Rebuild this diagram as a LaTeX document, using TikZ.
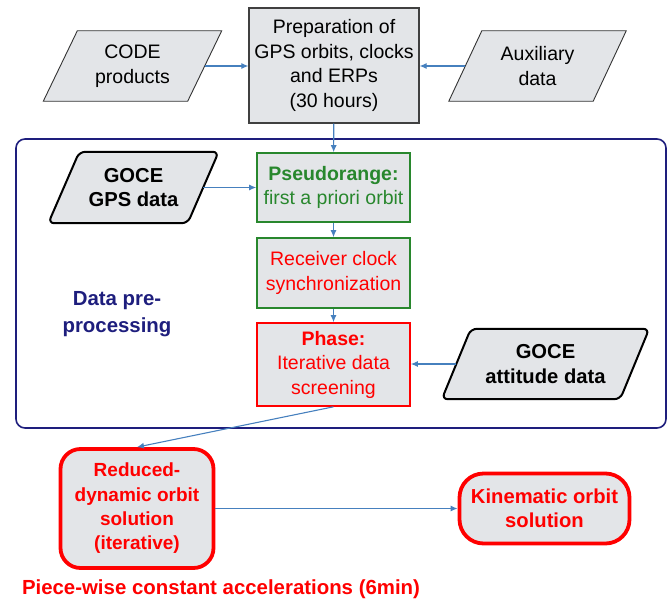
\documentclass[tikz,border=0pt]{standalone}
\usepackage{fontspec}
\setmainfont{Liberation Sans}
\usetikzlibrary{arrows.meta,backgrounds}

\definecolor{boxgray}{RGB}{227,229,232}
\definecolor{flowblue}{RGB}{70,128,190}
\definecolor{navyframe}{RGB}{30,30,125}
\definecolor{stepgreen}{RGB}{40,135,45}
\definecolor{stepred}{RGB}{255,0,0}

\tikzset{
  txt/.style={font=\fontsize{19.5}{24.5}\selectfont, align=center, inner sep=0pt},
  boldtxt/.style={txt, font=\fontsize{20.2}{24.5}\selectfont\bfseries},
  datatext/.style={txt, rectangle, minimum height=70pt},
  dataframe/.style={draw=black!80, line width=0.9pt, fill=boxgray},
  goceframe/.style={draw=black, line width=2pt, fill=boxgray, rounded corners=6pt},
  procbox/.style={txt, rectangle, fill=boxgray, line width=1.6pt},
  resultbox/.style={boldtxt, rectangle, draw=stepred, line width=3.8pt,
    fill=boxgray, text=stepred},
  flow/.style={-{Latex[length=7pt,width=6pt]}, flowblue, line width=1.1pt}
}

\begin{document}
\begin{tikzpicture}[x=1pt, y=-1pt]
  \useasboundingbox (0,0) rectangle (668,602);

  % Pre-processing frame
  \draw[navyframe, line width=1.6pt, rounded corners=9pt] (16,139) rectangle (666,428);
  \node[boldtxt, font=\fontsize{20.4}{27}\selectfont\bfseries, text=navyframe] (preproc) at (117,314) {Data pre-\\processing};

  % Inputs (text only, slanted frames drawn behind)
  \node[datatext, minimum width=144pt] (code) at (132.5,66) {CODE\\products};
  \node[datatext, minimum width=144pt] (aux) at (537.5,66) {Auxiliary\\data};
  \node[datatext, boldtxt, minimum width=139pt, minimum height=71pt] (gpsdata) at (133.5,187.5) {GOCE\\GPS data};
  \node[datatext, boldtxt, minimum width=178pt] (attitude) at (545.5,364) {GOCE\\attitude data};

  \begin{scope}[on background layer]
    \foreach \n/\s in {code/17, aux/16.5}
      \draw[dataframe] ([xshift=\s pt]\n.north west) -- ([xshift=\s pt]\n.north east)
        -- ([xshift=-\s pt]\n.south east) -- ([xshift=-\s pt]\n.south west) -- cycle;
    \foreach \n/\s in {gpsdata/15.5, attitude/14.5}
      \draw[goceframe] ([xshift=\s pt]\n.north west) -- ([xshift=\s pt]\n.north east)
        -- ([xshift=-\s pt]\n.south east) -- ([xshift=-\s pt]\n.south west) -- cycle;
  \end{scope}

  % Processing steps
  \node[procbox, draw=black!75, line width=1.2pt, minimum width=170pt, minimum height=115pt] (prep) at (334,65.5)
    {Preparation of\\GPS orbits, clocks\\and ERPs\\(30 hours)};
  \node[procbox, draw=stepgreen, text=stepgreen, minimum width=153pt, minimum height=69pt] (pseudo) at (333.5,187.5)
    {\textbf{Pseudorange:}\\first a priori orbit};
  \node[procbox, draw=stepgreen, text=stepred, minimum width=153pt, minimum height=70pt] (clock) at (333.5,273)
    {Receiver clock\\synchronization};
  \node[procbox, draw=stepred, text=stepred, minimum width=153pt, minimum height=83pt] (phase) at (333.5,364.5)
    {\textbf{Phase:}\\Iterative data\\screening};

  % Orbit solutions
  \node[resultbox, rounded corners=20pt, font=\fontsize{19}{24.3}\selectfont\bfseries,
    minimum width=153pt, minimum height=119pt] (reduced) at (137,508.5)
    {Reduced-\\dynamic orbit\\solution\\(iterative)};
  \node[resultbox, rounded corners=24pt, minimum width=170pt, minimum height=70pt] (kinematic) at (544.5,508.5)
    {Kinematic orbit\\solution};
  \node[boldtxt, font=\fontsize{20.4}{24.5}\selectfont\bfseries, text=stepred] (accel) at (221,589)
    {Piece-wise constant accelerations (6min)};

  % Connectors
  \draw[flow] (code.east) -- (prep.west |- code.east);
  \draw[flow] (aux.west) -- (prep.east |- aux.west);
  \draw[flow] (prep) -- (pseudo);
  \draw[flow] (gpsdata.east) -- (pseudo.west |- gpsdata.east);
  \draw[flow] (pseudo) -- (clock);
  \draw[flow] (clock) -- (phase);
  \draw[flow] (attitude.west) -- (phase.east |- attitude.west);
  \draw[flow] (phase.south) -- (reduced.north);
  \draw[flow] (reduced) -- (kinematic);
\end{tikzpicture}
\end{document}
